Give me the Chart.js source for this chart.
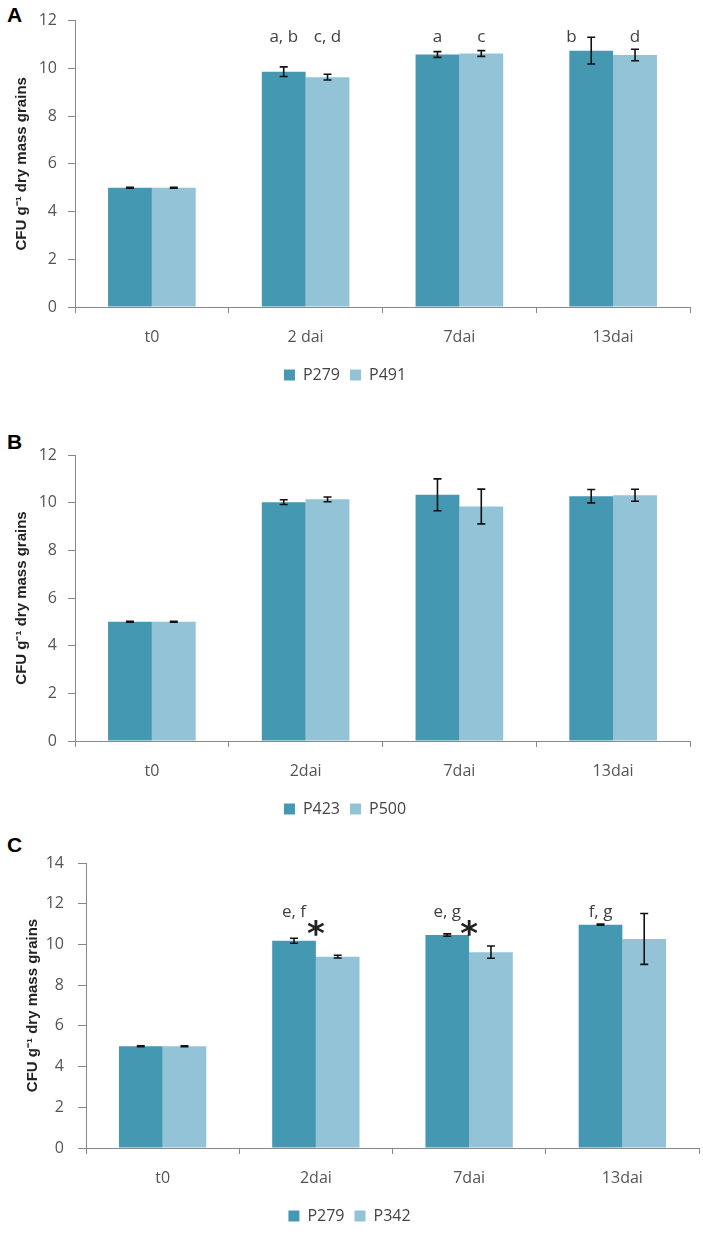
<!DOCTYPE html>
<html>
<head>
<meta charset="utf-8">
<script src="https://cdn.jsdelivr.net/npm/chart.js@4.4.0/dist/chart.umd.min.js"></script>
<style>
  body { margin: 0; background: #fff; width: 703px; height: 1239px; position: relative; overflow: hidden; }
  canvas { position: absolute; left: 0; }
  .lbl { position: absolute; left: 7px; font: bold 21px "Liberation Sans", Arial, sans-serif; color: #000; }
</style>
</head>
<body>
<div class="lbl" style="top:3px">A</div>
<div class="lbl" style="top:430px">B</div>
<div class="lbl" style="top:833px">C</div>
<canvas id="chartA" width="703" height="400" style="top:0px"></canvas>
<canvas id="chartB" width="703" height="427" style="top:400px"></canvas>
<canvas id="chartC" width="703" height="419" style="top:820px"></canvas>
<script>
// Datos de las tres graficas
const categoriesA = ['t0', '2 dai', '7dai', '13dai'];
const categoriesB = ['t0', '2dai', '7dai', '13dai'];
const categoriesC = ['t0', '2dai', '7dai', '13dai'];

// Grafica A
const p279A = [5.0, 9.86, 10.58, 10.74];
const p279AErr = [0.02, 0.2, 0.12, 0.56];
const p491A = [5.0, 9.63, 10.62, 10.56];
const p491AErr = [0.02, 0.12, 0.12, 0.24];
const p279ALetters = ['', 'a, b', 'a', 'b'];
const p491ALetters = ['', 'c, d', 'c', 'd'];

// Grafica B
const p423B = [5.0, 10.02, 10.33, 10.27];
const p423BErr = [0.02, 0.1, 0.67, 0.28];
const p500B = [5.0, 10.14, 9.84, 10.31];
const p500BErr = [0.02, 0.1, 0.73, 0.25];

// Grafica C
const p279C = [5.0, 10.18, 10.46, 10.97];
const p279CErr = [0.02, 0.12, 0.06, 0.03];
const p342C = [5.0, 9.4, 9.62, 10.27];
const p342CErr = [0.02, 0.07, 0.3, 1.25];
const p279CLetters = ['', 'e, f', 'e, g', 'f, g'];
const p342CLetters = ['', '', '', ''];
const starsC = [false, true, true, false];

const yTicksA = [0, 2, 4, 6, 8, 10, 12];
const yTicksC = [0, 2, 4, 6, 8, 10, 12, 14];

const darkColor = 'rgb(68, 152, 178)';
const lightColor = 'rgb(146, 195, 214)';
const tickFont = { family: '"Open Sans", sans-serif', size: 16 };

// Barras de error, letras y asteriscos
const extrasPlugin = {
  id: 'extras',
  afterDatasetsDraw(chart, args, opts) {
    const ctx = chart.ctx;
    const y = chart.scales.y;
    ctx.save();
    chart.data.datasets.forEach((ds, di) => {
      const meta = chart.getDatasetMeta(di);
      meta.data.forEach((bar, i) => {
        const v = ds.data[i], e = ds.errors[i];
        const yt = y.getPixelForValue(v + e), yb = y.getPixelForValue(v - e);
        ctx.strokeStyle = '#111';
        ctx.lineWidth = 1.6;
        ctx.beginPath();
        ctx.moveTo(bar.x, yt); ctx.lineTo(bar.x, yb);
        ctx.moveTo(bar.x - 4, yt); ctx.lineTo(bar.x + 4, yt);
        ctx.moveTo(bar.x - 4, yb); ctx.lineTo(bar.x + 4, yb);
        ctx.stroke();
        const txt = ds.letters ? ds.letters[i] : '';
        if (txt) {
          let lx = bar.x;
          // si la barra de error llega a la letra, se corre a la izquierda
          if (v + e > opts.letterLevel - 0.3) lx -= bar.width * 0.45;
          ctx.fillStyle = '#404040';
          ctx.font = '17px "Open Sans", sans-serif';
          ctx.textAlign = 'center';
          ctx.textBaseline = 'middle';
          ctx.fillText(txt, lx, y.getPixelForValue(opts.letterLevel));
        }
        if (ds.stars && ds.stars[i]) {
          ctx.fillStyle = '#222';
          ctx.font = 'bold 34px "DejaVu Sans", sans-serif';
          ctx.textAlign = 'center';
          ctx.textBaseline = 'middle';
          ctx.fillText('*', bar.x + bar.width / 2, y.getPixelForValue(opts.starLevel) + 9);
        }
      });
    });
    ctx.restore();
  }
};

function makeChart(id, labels, datasets, yMax, yTicks, lay) {
  return new Chart(document.getElementById(id), {
    type: 'bar',
    data: { labels: labels, datasets: datasets },
    plugins: [extrasPlugin],
    options: {
      responsive: false,
      animation: false,
      devicePixelRatio: 1,
      layout: { padding: { top: lay.top, right: lay.right, bottom: lay.bottom, left: 0 } },
      datasets: { bar: { categoryPercentage: 0.57, barPercentage: 1.0, borderWidth: 0 } },
      plugins: {
        legend: {
          position: 'bottom',
          labels: { boxWidth: 11, boxHeight: 11, padding: 10, color: '#444', font: tickFont }
        },
        tooltip: { enabled: false },
        extras: { letterLevel: lay.letterLevel, starLevel: lay.starLevel }
      },
      scales: {
        x: {
          afterFit: s => { s.height = 50; },
          grid: { drawOnChartArea: false, drawTicks: true, tickLength: 6, color: '#888' },
          border: { color: '#888', width: 1 },
          ticks: { color: '#555', font: tickFont, padding: 15 }
        },
        y: {
          min: 0, max: yMax,
          afterFit: s => { s.width = lay.axisX; },
          afterBuildTicks: s => { s.ticks = yTicks.map(v => ({ value: v })); },
          grid: { drawOnChartArea: false, drawTicks: true, tickLength: lay.tickLen, color: '#888' },
          border: { color: '#888', width: 1 },
          ticks: { color: '#555', font: tickFont, padding: lay.tickPad },
          title: {
            display: true,
            text: 'CFU g\u207B\u00B9 dry mass grains',
            color: '#222',
            font: { family: '"Liberation Sans", Arial, sans-serif', size: 15, weight: 'bold' },
            padding: { top: lay.titlePad, bottom: 0 }
          }
        }
      }
    }
  });
}

let chartA = makeChart('chartA', categoriesA, [
  { label: 'P279', data: p279A, errors: p279AErr, letters: p279ALetters, backgroundColor: darkColor },
  { label: 'P491', data: p491A, errors: p491AErr, letters: p491ALetters, backgroundColor: lightColor }
], 12, yTicksA, { top: 15, right: 13, bottom: 7, axisX: 75, tickLen: 7, tickPad: 11, titlePad: 13, letterLevel: 11.3, starLevel: 0 });

let chartB = makeChart('chartB', categoriesB, [
  { label: 'P423', data: p423B, errors: p423BErr, backgroundColor: darkColor },
  { label: 'P500', data: p500B, errors: p500BErr, backgroundColor: lightColor }
], 12, yTicksA, { top: 55, right: 13, bottom: 0, axisX: 75, tickLen: 7, tickPad: 11, titlePad: 13, letterLevel: 11.3, starLevel: 0 });

let chartC = makeChart('chartC', categoriesC, [
  { label: 'P279', data: p279C, errors: p279CErr, letters: p279CLetters, stars: starsC, backgroundColor: darkColor },
  { label: 'P342', data: p342C, errors: p342CErr, letters: p342CLetters, backgroundColor: lightColor }
], 14, yTicksC, { top: 43, right: 4, bottom: 5, axisX: 86, tickLen: 8, tickPad: 14, titlePad: 24, letterLevel: 11.6, starLevel: 10.83 });
</script>
</body>
</html>
